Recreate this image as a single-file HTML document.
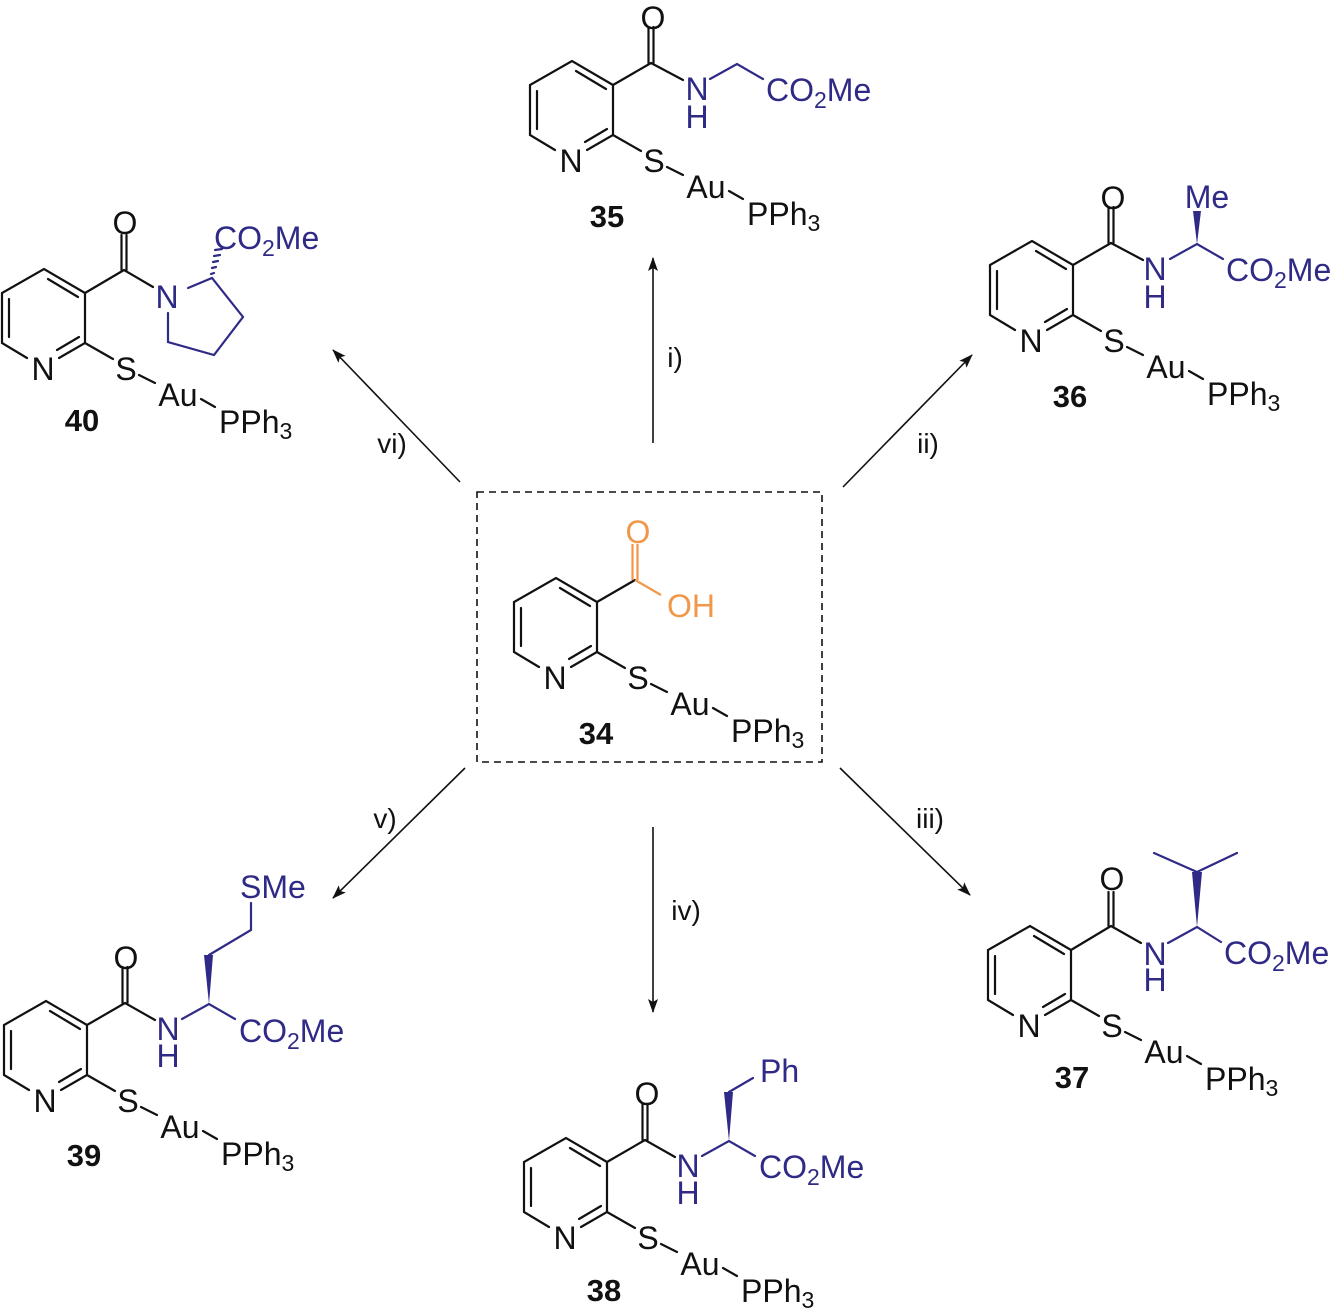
<!DOCTYPE html>
<html><head><meta charset="utf-8"><style>
body{margin:0;background:#fff}
svg{display:block}
text{font-family:"Liberation Sans",Arial,sans-serif;font-size:32px;fill:#111}
.b{stroke:#111;stroke-width:2.2;fill:none;stroke-linecap:round}
.v{stroke:#2f2a86;stroke-width:2.2;fill:none;stroke-linecap:round}
.o{stroke:#f0974a;stroke-width:2.2;fill:none}
text.nv{fill:#2f2a86}
text.or{fill:#f0974a}
text.num{font-weight:bold;text-anchor:middle;font-size:31px}
.m{text-anchor:middle}
.ar{stroke:#111;stroke-width:1.6;fill:none}
.lb{font-size:28px}
</style></head><body>
<svg width="1337" height="1313" viewBox="0 0 1337 1313" xmlns="http://www.w3.org/2000/svg">
<defs><marker id="ah" markerWidth="14" markerHeight="10" refX="13" refY="5" orient="auto" markerUnits="userSpaceOnUse"><path d="M0 0L14 5L0 10L3 5Z" fill="#111"/></marker></defs>

<line class="ar" x1="653" y1="443" x2="653" y2="258" marker-end="url(#ah)"/>
<text x="675" y="367" class="m lb">i)</text>
<line class="ar" x1="843" y1="487" x2="972" y2="355" marker-end="url(#ah)"/>
<text x="928" y="453" class="m lb">ii)</text>
<line class="ar" x1="460" y1="482" x2="333" y2="350" marker-end="url(#ah)"/>
<text x="392" y="453" class="m lb">vi)</text>
<line class="ar" x1="465" y1="768" x2="333" y2="898" marker-end="url(#ah)"/>
<text x="385" y="828" class="m lb">v)</text>
<line class="ar" x1="653" y1="827" x2="653" y2="1012" marker-end="url(#ah)"/>
<text x="686" y="920" class="m lb">iv)</text>
<line class="ar" x1="840" y1="768" x2="970" y2="895" marker-end="url(#ah)"/>
<text x="930" y="828" class="m lb">iii)</text>
<rect x="477" y="492" width="345" height="270" fill="none" stroke="#111" stroke-width="1.6" stroke-dasharray="7,5"/>

<!-- 34 -->
<g transform="translate(597,602)">
<path class="b" d="M0 0L-41 -24L-83 0L-83 50L-58 65M-26 65L0 50L0 0M-7 4L-37 -14M-76 6L-76 44M-6 44L-28 57M0 50L28 66M54 82L70 90M116 106L130 114M0 0L38 -22"/>
<path class="o" d="M35.5 -22L35.5 -58M40.5 -22L40.5 -58M38 -22L64 -7"/>
<text x="-42" y="87" class="m">N</text><text x="41" y="87" class="m">S</text><text x="93" y="113" class="m">Au</text>
<text x="134" y="140">PPh<tspan font-size="23" dy="6">3</tspan></text>
<text x="-1" y="142" class="num">34</text>
<text x="41" y="-59" class="m or">O</text>
<text x="70" y="15" class="or">OH</text>
</g>

<!-- 35 -->
<g transform="translate(613,85)">
<path class="b" d="M0 0L-41 -24L-83 0L-83 50L-58 65M-26 65L0 50L0 0M-7 4L-37 -14M-76 6L-76 44M-6 44L-28 57M0 50L28 66M54 82L70 90M116 106L130 114M0 0L38 -22M35.5 -22L35.5 -58M40.5 -22L40.5 -58M38 -22L70 -5"/>
<path class="v" d="M97 -6L124 -21L150 -6"/>
<text x="-42" y="87" class="m">N</text><text x="41" y="87" class="m">S</text><text x="93" y="113" class="m">Au</text>
<text x="134" y="140">PPh<tspan font-size="23" dy="6">3</tspan></text>
<text x="-6" y="142" class="num">35</text>
<text x="40" y="-56" class="m">O</text>
<text x="84" y="15" class="m nv">N</text><text x="84" y="43" class="m nv">H</text>
<text x="153" y="16" class="nv">CO<tspan font-size="23" dy="7">2</tspan><tspan dy="-7">Me</tspan></text>
</g>

<!-- 36 -->
<g transform="translate(1073,265)">
<path class="b" d="M0 0L-41 -24L-83 0L-83 50L-58 65M-26 65L0 50L0 0M-7 4L-37 -14M-76 6L-76 44M-6 44L-28 57M0 50L28 66M54 82L70 90M116 106L130 114M0 0L38 -22M35.5 -22L35.5 -58M40.5 -22L40.5 -58M38 -22L70 -5"/>
<path class="v" d="M97 -6L124 -21L150 -6"/>
<polygon points="124,-21 120,-54 128,-54" fill="#2f2a86"/>
<text x="-42" y="87" class="m">N</text><text x="41" y="87" class="m">S</text><text x="93" y="113" class="m">Au</text>
<text x="134" y="140">PPh<tspan font-size="23" dy="6">3</tspan></text>
<text x="-3" y="142" class="num">36</text>
<text x="40" y="-56" class="m">O</text>
<text x="82" y="15" class="m nv">N</text><text x="82" y="43" class="m nv">H</text>
<text x="134" y="-57" class="m nv">Me</text>
<text x="153" y="16" class="nv">CO<tspan font-size="23" dy="7">2</tspan><tspan dy="-7">Me</tspan></text>
</g>

<!-- 37 -->
<g transform="translate(1071,950)">
<path class="b" d="M0 0L-41 -24L-83 0L-83 50L-58 65M-26 65L0 50L0 0M-7 4L-37 -14M-76 6L-76 44M-6 44L-28 57M0 50L28 66M54 82L70 90M116 106L130 114M0 0L40 -24M37.5 -24L37.5 -58M42.5 -24L42.5 -58M40 -24L70 -7"/>
<path class="v" d="M97 -7L126 -23L150 -8M126 -78L83 -97M126 -78L166 -97"/>
<polygon points="126,-23 121,-78 131,-78" fill="#2f2a86"/>
<text x="-42" y="87" class="m">N</text><text x="41" y="87" class="m">S</text><text x="93" y="113" class="m">Au</text>
<text x="134" y="140">PPh<tspan font-size="23" dy="6">3</tspan></text>
<text x="1" y="138" class="num">37</text>
<text x="41" y="-60" class="m">O</text>
<text x="84" y="15" class="m nv">N</text><text x="84" y="41" class="m nv">H</text>
<text x="153" y="14" class="nv">CO<tspan font-size="23" dy="7">2</tspan><tspan dy="-7">Me</tspan></text>
</g>

<!-- 38 -->
<g transform="translate(607,1162)">
<path class="b" d="M0 0L-41 -24L-83 0L-83 50L-58 65M-26 65L0 50L0 0M-7 4L-37 -14M-76 6L-76 44M-6 44L-28 57M0 50L28 66M54 82L70 90M116 106L130 114M0 0L38 -22M35.5 -22L35.5 -58M40.5 -22L40.5 -58M38 -22L68 -5"/>
<path class="v" d="M95 -6L122 -21L148 -6M122 -70L146 -84"/>
<polygon points="122,-21 117,-70 126,-70" fill="#2f2a86"/>
<text x="-42" y="87" class="m">N</text><text x="41" y="87" class="m">S</text><text x="93" y="113" class="m">Au</text>
<text x="134" y="140">PPh<tspan font-size="23" dy="6">3</tspan></text>
<text x="-3" y="139" class="num">38</text>
<text x="40" y="-57" class="m">O</text>
<text x="81" y="15" class="m nv">N</text><text x="81" y="42" class="m nv">H</text>
<text x="153" y="-80" class="nv">Ph</text>
<text x="152" y="16" class="nv">CO<tspan font-size="23" dy="7">2</tspan><tspan dy="-7">Me</tspan></text>
</g>

<!-- 39 -->
<g transform="translate(87,1025)">
<path class="b" d="M0 0L-41 -24L-83 0L-83 50L-58 65M-26 65L0 50L0 0M-7 4L-37 -14M-76 6L-76 44M-6 44L-28 57M0 50L28 66M54 82L70 90M116 106L130 114M0 0L38 -22M35.5 -22L35.5 -58M40.5 -22L40.5 -58M38 -22L68 -5"/>
<path class="v" d="M95 -6L122 -21L148 -6M122 -70L164 -95L164 -122"/>
<polygon points="122,-21 117,-70 126,-70" fill="#2f2a86"/>
<text x="-42" y="87" class="m">N</text><text x="41" y="87" class="m">S</text><text x="93" y="113" class="m">Au</text>
<text x="134" y="140">PPh<tspan font-size="23" dy="6">3</tspan></text>
<text x="-3" y="141" class="num">39</text>
<text x="39" y="-56" class="m">O</text>
<text x="81" y="15" class="m nv">N</text><text x="81" y="42" class="m nv">H</text>
<text x="153" y="-127" class="nv">SMe</text>
<text x="152" y="17" class="nv">CO<tspan font-size="23" dy="7">2</tspan><tspan dy="-7">Me</tspan></text>
</g>

<!-- 40 -->
<g transform="translate(85,293)">
<path class="b" d="M0 0L-41 -24L-83 0L-83 50L-58 65M-26 65L0 50L0 0M-7 4L-37 -14M-76 6L-76 44M-6 44L-28 57M0 50L28 66M54 82L70 90M116 106L130 114M0 0L39 -23M36.5 -23L36.5 -58M41.5 -23L41.5 -58M39 -23L68 -6"/>
<path class="v" d="M83 20L83 49L129 62L158 24L127 -15L103 -5"/>
<path class="v" stroke-width="1.6" d="M126 -19L129 -20M127 -25L131 -26M128 -31L133 -32M129 -37L135 -38M130 -43L137 -44"/>
<text x="-42" y="87" class="m">N</text><text x="41" y="87" class="m">S</text><text x="93" y="113" class="m">Au</text>
<text x="134" y="140">PPh<tspan font-size="23" dy="6">3</tspan></text>
<text x="-3" y="138" class="num">40</text>
<text x="40" y="-59" class="m">O</text>
<text x="82" y="15" class="m nv">N</text>
<text x="129" y="-44" class="nv">CO<tspan font-size="23" dy="7">2</tspan><tspan dy="-7">Me</tspan></text>
</g>
</svg>
</body></html>
